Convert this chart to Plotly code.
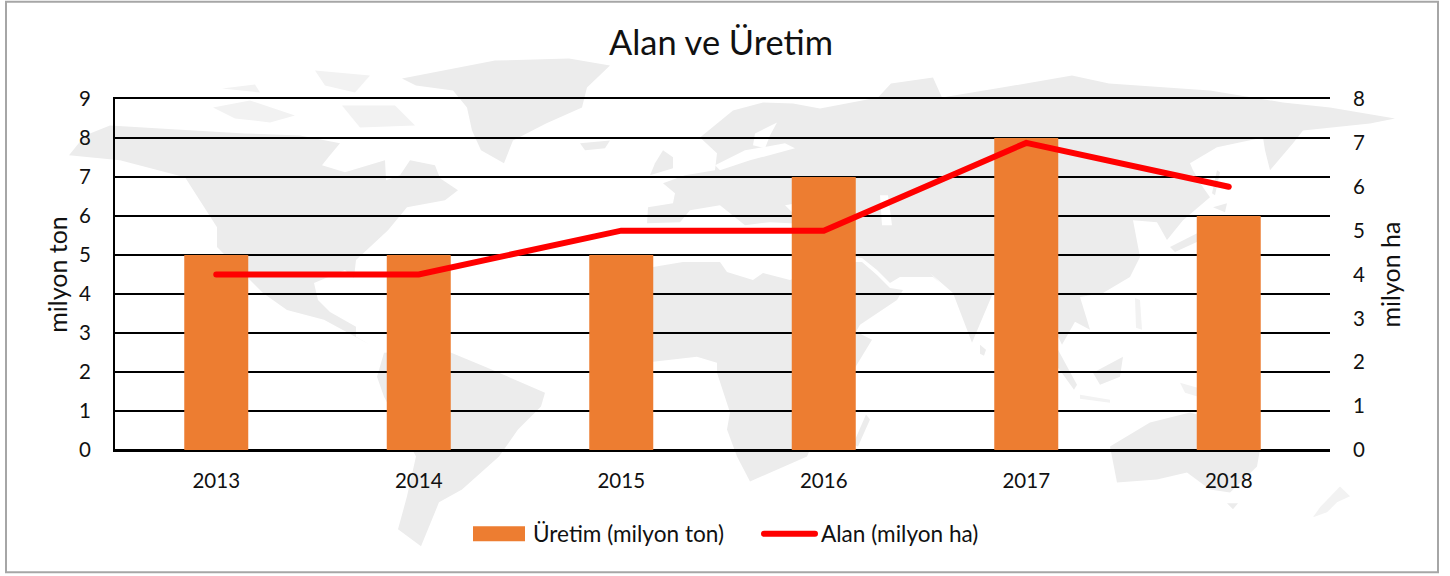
import plotly.graph_objects as go

years = ["2013", "2014", "2015", "2016", "2017", "2018"]
uretim = [5, 5, 5, 7, 8, 6]
alan = [4, 4, 5, 5, 7, 6]
left_ticks = list(range(0, 10))
right_ticks = list(range(0, 9))
title_text = "Alan ve Üretim"
left_title = "milyon ton"
right_title = "milyon ha"
bar_name = "Üretim (milyon ton)"
line_name = "Alan (milyon ha)"

W, H = 1450, 576
L, R, T, B = 115, 1330, 98.5, 450.5
FONT = "Lato, Carlito, Calibri, sans-serif"
ORANGE = "#ED7D31"
RED = "#FF0000"
MAP = "#ECECEC"
MAP_FAINT = "#F2F2F2"

# Decorative world-map backdrop (page pixel outlines)
north_america = [(69,155),(85,135),(110,125),(160,128),(245,133),(300,135),(340,143),(330,155),(322,165),(345,172),(385,160),(386,180),(400,175),(410,160),(435,165),(440,178),(458,190),(445,200),(407,207),(388,230),(356,260),(354,278),(345,270),(314,283),(318,300),(330,312),(356,327),(356,337),(384,353),(370,345),(324,320),(287,310),(263,293),(240,270),(217,247),(217,227),(185,177),(120,160)]
south_america = [(384,353),(444,350),(485,367),(545,393),(541,407),(518,430),(499,457),(462,490),(439,503),(421,547),(398,530),(407,497),(416,457),(384,397),(377,377)]
greenland = [(402,78),(495,60),(569,58),(610,65),(587,87),(582,107),(546,123),(513,140),(504,163),(481,150),(472,130),(467,107),(453,90),(416,85)]
iceland = [(580,143),(610,140),(605,148),(585,150)]
eurasia = [(700,137),(733,110),(763,102),(793,103),(820,108),(878,97),(891,83),(933,77),(942,97),(1002,87),(1072,75),(1109,83),(1210,90),(1283,102),(1330,107),(1395,118),(1370,123),(1303,130),(1293,143),(1270,170),(1265,150),(1263,137),(1217,147),(1190,163),(1193,170),(1203,187),(1210,197),(1183,220),(1167,240),(1157,222),(1133,220),(1140,257),(1130,277),(1103,293),(1080,297),(1087,320),(1090,330),(1075,322),(1062,345),(1050,320),(1030,295),(1010,290),(993,293),(972,343),(953,293),(930,273),(940,283),(933,277),(900,277),(890,283),(877,270),(862,258),(840,255),(830,225),(770,222),(745,225),(720,205),(690,210),(680,222),(647,223),(648,207),(673,203),(675,193),(663,183),(685,175),(715,170),(717,153)]
uk = [(663,150),(673,157),(673,168),(650,175),(655,163)]
japan_north = [(1213,207),(1227,203),(1225,212)]
japan_main = [(1170,247),(1207,228),(1210,236),(1175,252)]
sakhalin = [(1217,170),(1220,172),(1215,195),(1212,193)]
sri_lanka = [(980,345),(986,350),(984,356),(980,354)]
africa = [(640,275),(653,267),(683,262),(720,262),(727,272),(753,280),(763,273),(790,280),(840,262),(862,262),(877,275),(890,288),(903,290),(897,300),(860,325),(856,332),(872,340),(855,368),(835,400),(810,450),(807,457),(750,482),(737,457),(727,430),(730,413),(717,373),(717,363),(697,357),(653,362),(640,340)]
madagascar = [(866,415),(870,420),(858,447),(853,445)]
australia = [(1110,447),(1150,423),(1190,413),(1235,425),(1260,450),(1257,467),(1230,493),(1210,490),(1187,473),(1157,480),(1117,483)]
tasmania = [(1227,504),(1238,504),(1233,510)]
borneo = [(1093,373),(1123,357),(1120,377),(1100,385)]
sumatra = [(1058,350),(1077,385),(1074,390),(1056,365)]
land = [north_america, south_america, greenland, iceland, eurasia, uk, japan_north, japan_main,
        sakhalin, sri_lanka, africa, madagascar, australia, tasmania, borneo, sumatra]

arctic_1 = [(213,107),(250,100),(295,115),(270,122),(235,118)]
arctic_2 = [(342,105),(395,105),(415,125),(360,127)]
arctic_3 = [(315,70),(370,75),(355,92),(325,85)]
arctic_4 = [(222,88),(255,84),(260,92)]
java = [(1080,395),(1110,400),(1110,403),(1080,399)]
philippines = [(1135,298),(1140,300),(1142,330),(1136,328)]
new_guinea = [(1180,383),(1240,400),(1225,405),(1185,393)]
new_zealand = [(1340,487),(1350,497),(1337,503),(1327,513),(1313,518),(1320,508)]
faint_land = [arctic_1, arctic_2, arctic_3, arctic_4, java, philippines, new_guinea, new_zealand]

bothnia = [(777,122),(755,133),(753,145),(765,148),(770,135)]
baltic = [(715,165),(745,150),(785,143),(795,148),(750,160),(720,170)]
black_sea = [(785,205),(815,200),(825,210),(795,215)]
caspian = [(880,195),(888,195),(892,225),(882,225)]
water = [bothnia, baltic, black_sea, caspian]


def px(x):
    return (x - L) / (R - L)


def py(y):
    return (B - y) / (B - T)


def outline(polys, color):
    out = []
    for poly in polys:
        d = "M" + "L".join(f"{px(x):.5f},{py(y):.5f}" for x, y in poly) + "Z"
        out.append(dict(type="path", path=d, xref="paper", yref="paper", fillcolor=color,
                        line=dict(width=0), layer="below"))
    return out


shapes = outline(land, MAP) + outline(faint_land, MAP_FAINT) + outline(water, "#FFFFFF")

# Outer frame
shapes.append(dict(type="rect", xref="paper", yref="paper", x0=px(6), x1=px(1438), y0=py(573), y1=py(1),
                   line=dict(color="#A6A6A6", width=2), fillcolor="rgba(0,0,0,0)", layer="below"))
# Legend keys
shapes.append(dict(type="rect", xref="paper", yref="paper", x0=px(473), x1=px(525), y0=py(542), y1=py(527),
                   line=dict(width=0), fillcolor=ORANGE, layer="above"))
shapes.append(dict(type="line", xref="paper", yref="paper", x0=px(764), x1=px(815), y0=py(534.5), y1=py(534.5),
                   line=dict(color=RED, width=6), layer="above"))

legend_font = dict(family=FONT, size=22.6, color="#111111")
annotations = [
    dict(text=bar_name, xref="paper", yref="paper", x=px(531), y=py(534), xanchor="left", yanchor="middle",
         showarrow=False, font=legend_font),
    dict(text=line_name, xref="paper", yref="paper", x=px(819), y=py(534), xanchor="left", yanchor="middle",
         showarrow=False, font=legend_font),
]

fig = go.Figure()
fig.add_trace(go.Bar(x=years, y=uretim, name=bar_name, marker=dict(color=ORANGE, line=dict(width=0)), yaxis="y"))
fig.add_trace(go.Scatter(x=years, y=alan, name=line_name, mode="lines", yaxis="y2",
                         line=dict(color=RED, width=6)))

axis_font = dict(family=FONT, size=20.5, color="#111111")
title_font = dict(family=FONT, size=25, color="#111111")
fig.update_layout(
    width=W, height=H,
    margin=dict(l=L, r=W - R, t=T, b=H - B, autoexpand=False),
    paper_bgcolor="white", plot_bgcolor="rgba(0,0,0,0)",
    showlegend=False, bargap=0.684,
    title=dict(text=title_text, x=721 / W, xanchor="center", y=1 - 43 / H, yanchor="middle",
               font=dict(family=FONT, size=34.4, color="#111111")),
    xaxis=dict(type="category", showgrid=False, showline=True, linecolor="#000000", linewidth=2, mirror=True,
               ticks="outside", ticklen=11, tickcolor="rgba(0,0,0,0)", tickfont=axis_font, zeroline=False),
    yaxis=dict(range=[0, 9], tickvals=left_ticks, showgrid=True, gridcolor="#000000", gridwidth=2,
               zeroline=True, zerolinecolor="#000000", zerolinewidth=2,
               showline=True, linecolor="#000000", linewidth=2, ticks="outside", ticklen=18,
               tickcolor="rgba(0,0,0,0)", tickfont=axis_font,
               title=dict(text=left_title, font=title_font, standoff=4)),
    yaxis2=dict(range=[0, 8], tickvals=right_ticks, overlaying="y", side="right", showgrid=False, zeroline=False,
                showline=False, ticks="outside", ticklen=18, tickcolor="rgba(0,0,0,0)", tickfont=axis_font,
                title=dict(text=right_title, font=title_font, standoff=18)),
    shapes=shapes, annotations=annotations,
)

post = """
document.documentElement.style.overflow='hidden';
document.body.style.margin='0';
document.body.style.overflow='hidden';
document.querySelectorAll('.scatterlayer .js-line').forEach(function(p){p.style.strokeLinecap='round';});
document.querySelectorAll('.shapelayer path').forEach(function(p){if(p.style.stroke==='rgb(255, 0, 0)'){p.style.strokeLinecap='round';}});
"""
fig.write_html("out.html", post_script=post, config=dict(displayModeBar=False))
